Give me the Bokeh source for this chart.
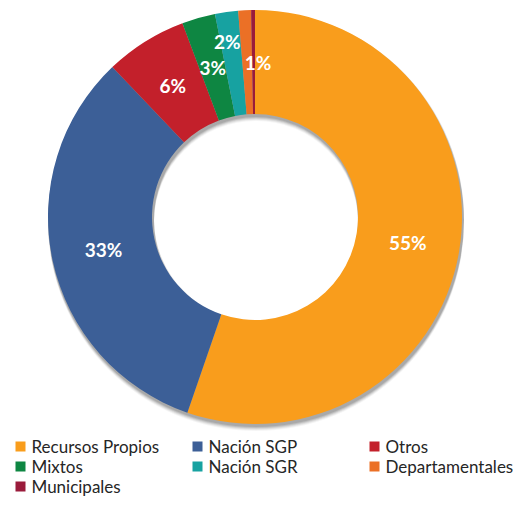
import math
from bokeh.plotting import figure
from bokeh.models import Range1d
from bokeh.core.properties import value
from bokeh.embed import file_html
from bokeh.resources import INLINE

categories = ["Recursos Propios", "Nación SGP", "Otros", "Mixtos",
              "Nación SGR", "Departamentales", "Municipales"]
shares = [55.3, 32.6, 6.4, 2.6, 1.8, 1.0, 0.3]
colors = ["#F99D1C", "#3C5F97", "#C3202B", "#0E8642", "#17A2A1", "#EB7026", "#9A1B3B"]
# label nudges (radius delta px, angle delta deg clockwise)
label_nudge = [(0, 0), (0, 0), (0, 0), (0, 0), (23, -1), (0, 4), (0, 0)]

W, H = 513, 499
p = figure(width=W, height=H, output_backend="svg", toolbar_location=None,
           x_range=Range1d(0, W), y_range=Range1d(515 - H, 515),
           min_border=0)
p.axis.visible = False
p.grid.visible = False
p.outline_line_color = None
p.background_fill_color = "white"

def sy(y):
    return 515 - y

cx, cy = 254.5, sy(216.5)
r_out, r_in = 207, 103

# soft shadow
for dy, a in [(2, 0.10), (3, 0.10), (4, 0.08), (5, 0.06), (6, 0.04)]:
    p.annulus(x=[cx + 1], y=[cy - dy], inner_radius=r_in - 1, outer_radius=r_out + 1,
              fill_color="black", fill_alpha=a, line_color=None)

total = sum(shares)
starts, ends = [], []
cum = 0.0
for s in shares:
    t1 = cum / total * 2 * math.pi
    cum += s
    t2 = cum / total * 2 * math.pi
    starts.append(math.pi / 2 - t2)
    ends.append(math.pi / 2 - t1)

p.annular_wedge(x=[cx] * len(shares), y=[cy] * len(shares), inner_radius=r_in,
                outer_radius=r_out, start_angle=starts, end_angle=ends,
                fill_color=colors, line_color=None, direction="anticlock")

# data labels
lx, ly, lt = [], [], []
cum = 0.0
r_mid = (r_in + r_out) / 2
for s, (dr, da) in zip(shares, label_nudge):
    mid = (cum + s / 2) / total * 360 + da
    cum += s
    if round(s) < 1:
        continue
    r = r_mid + dr
    lx.append(cx + r * math.sin(math.radians(mid)))
    ly.append(cy + r * math.cos(math.radians(mid)))
    lt.append(f"{round(s)}%")
p.text(x=lx, y=ly, text=lt, text_color="white", text_font=value("Lato"),
       text_font_style="bold", text_font_size="19px", text_align="center",
       text_baseline="middle")

# legend
col_x = [15, 192, 369]
row_y = [446, 466, 486]
sq_x, sq_y, tx, ty = [], [], [], []
for i, c in enumerate(categories):
    col, row = i % 3, i // 3
    sq_x.append(col_x[col] + 5)
    sq_y.append(sy(row_y[row]))
    tx.append(col_x[col] + 16)
    ty.append(sy(row_y[row]))
p.scatter(x=sq_x, y=sq_y, marker="square", size=10, fill_color=colors, line_color=None)
p.text(x=tx, y=ty, text=categories, text_color="#262626", text_font=value("Lato"),
       text_font_size="17px", text_align="left", text_baseline="middle")

open("out.html", "w").write(file_html(p, INLINE))
